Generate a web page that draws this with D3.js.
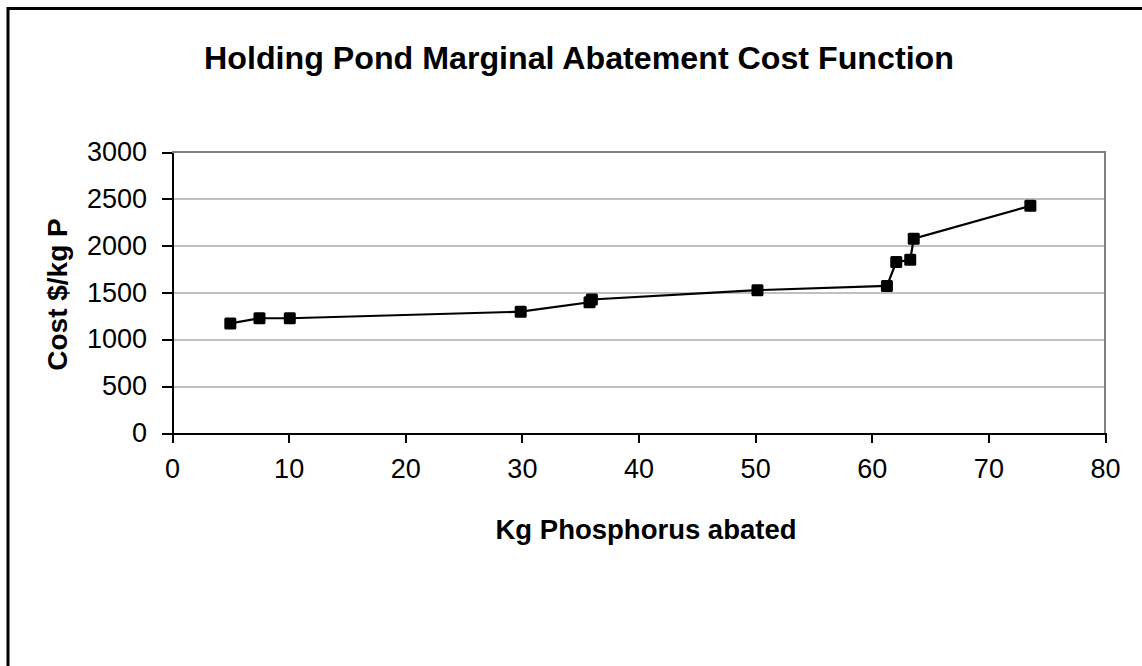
<!DOCTYPE html>
<meta charset="utf-8">
<style>
body { margin: 0; background: #fff; }
text { font-family: "Liberation Sans", Arial, sans-serif; }

.grid line {
  stroke: #c0c0c0;
  stroke-width: 2;
  shape-rendering: crispEdges;
}
.grid path { stroke-width: 0; }

.axis path,
.axis line {
  fill: none;
  stroke: #000;
  stroke-width: 2;
  shape-rendering: crispEdges;
}
.axis text { font-size: 27px; fill: #000; }
</style>
<body>
<div id="vis-container"></div>
<script src="https://cdn.jsdelivr.net/npm/d3@7/dist/d3.min.js"></script>
<script>

// data
var kgAbated = [5.0, 7.5, 10.1, 29.9, 35.8, 36.0, 50.2, 61.3, 62.1, 63.3, 63.6, 73.6];
var costPerKg = [1170, 1225, 1225, 1295, 1395, 1425, 1525, 1570, 1825, 1850, 2075, 2425];
var xTicks = [0, 10, 20, 30, 40, 50, 60, 70, 80];
var yTicks = [0, 500, 1000, 1500, 2000, 2500, 3000];

var chartTitle = "Holding Pond Marginal Abatement Cost Function";
var xTitle = "Kg Phosphorus abated";
var yTitle = "Cost $/kg P";

var W = 1142, H = 666;
var margin = {top: 152, right: 37, bottom: 233, left: 172}
  , width = W - margin.left - margin.right
  , height = H - margin.top - margin.bottom;

var points = kgAbated.map(function(d, i) { return {x: d, y: costPerKg[i]}; });

var svg = d3.select("#vis-container").append("svg")
  .attr("width", W)
  .attr("height", H);

// outer chart border (runs off the page right and bottom)
svg.append("rect")
  .attr("x", 8)
  .attr("y", 8.5)
  .attr("width", 1160)
  .attr("height", 700)
  .attr("fill", "none")
  .attr("stroke", "#000")
  .attr("stroke-width", 3);

var g = svg.append("g")
  .attr("transform", "translate(" + margin.left + "," + margin.top + ")");

var xScale = d3.scaleLinear().domain([0, 80]).range([0, width]);
var yScale = d3.scaleLinear().domain([0, 3000]).range([height, 0]);

// horizontal gridlines
g.append("g")
  .attr("class", "grid")
  .call(d3.axisLeft(yScale).tickValues(yTicks.slice(1, -1)).tickSize(-width).tickFormat(""));

// plot area border, top and right
g.append("path")
  .attr("d", "M0,0H" + width + "V" + height)
  .attr("fill", "none")
  .attr("stroke", "#808080")
  .attr("stroke-width", 2)
  .attr("shape-rendering", "crispEdges");

// x axis
g.append("g")
  .attr("class", "x axis")
  .attr("transform", "translate(0," + height + ")")
  .call(d3.axisBottom(xScale).tickValues(xTicks).tickSize(10).tickSizeOuter(0).tickPadding(16));

// y axis
g.append("g")
  .attr("class", "y axis")
  .call(d3.axisLeft(yScale).tickValues(yTicks).tickFormat(d3.format("d")).tickSize(10).tickSizeOuter(0).tickPadding(15));

// line
var line = d3.line()
  .x(function(d) { return xScale(d.x); })
  .y(function(d) { return yScale(d.y); });

g.append("path")
  .datum(points)
  .attr("d", line)
  .attr("fill", "none")
  .attr("stroke", "#000")
  .attr("stroke-width", 2.2);

// square markers
g.selectAll(".marker")
  .data(points)
  .enter().append("rect")
  .attr("class", "marker")
  .attr("x", function(d) { return xScale(d.x) - 6; })
  .attr("y", function(d) { return yScale(d.y) - 6; })
  .attr("width", 12)
  .attr("height", 12)
  .attr("rx", 1.5)
  .attr("fill", "#000");

// title
svg.append("text")
  .attr("x", 579)
  .attr("y", 69)
  .attr("text-anchor", "middle")
  .style("font-size", "32.2px")
  .style("font-weight", "bold")
  .text(chartTitle);

// x axis label
svg.append("text")
  .attr("x", 646)
  .attr("y", 539)
  .attr("text-anchor", "middle")
  .style("font-size", "27.5px")
  .style("font-weight", "bold")
  .text(xTitle);

// y axis label
svg.append("text")
  .attr("transform", "translate(67," + (margin.top + height / 2 + 2) + ") rotate(-90)")
  .attr("text-anchor", "middle")
  .style("font-size", "28px")
  .style("font-weight", "bold")
  .text(yTitle);

</script>
</body>
</html>
